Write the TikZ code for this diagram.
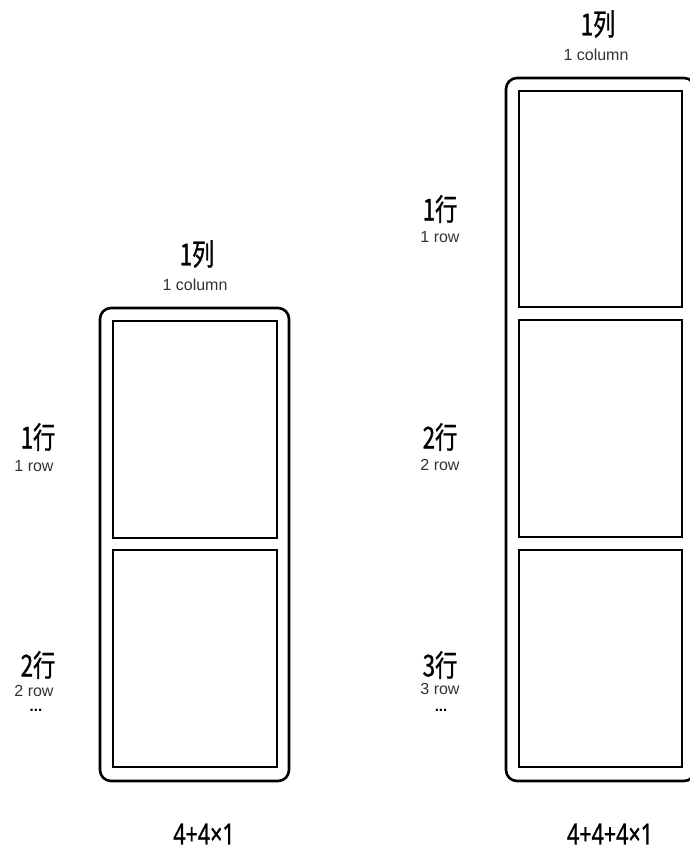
\documentclass[tikz,border=0pt]{standalone}
\usepackage{fontspec}
\setmainfont{Liberation Sans}
\newfontfamily\cjk[FakeStretch=0.74,FakeBold=1]{Noto Sans CJK SC}
\newfontfamily\num[FakeStretch=0.74,FakeBold=0.8]{Noto Sans}
\usepackage{tikz}
\usetikzlibrary{calc}

\tikzset{
  frame/.style={line width=2.6pt, rounded corners=11pt},
  cell/.style={line width=2.2pt},
  big/.style={font=\cjk\fontsize{30}{30}\selectfont, inner sep=0pt},
  small/.style={font=\fontsize{16}{16}\selectfont, text=black!80, inner sep=0pt},
  dots/.style={font=\bfseries\fontsize{15}{15}\selectfont, inner sep=0pt},
  total/.style={font=\num\fontsize{29}{29}\selectfont, inner sep=0pt}
}

\begin{document}
\begin{tikzpicture}[x=1pt,y=-1pt]

  \clip (0,0) rectangle (690,852);
  \fill[white] (0,0) rectangle (690,852);

  % Left frame
  \draw[frame] (100,308) rectangle (289,781);
  \foreach \top/\bot in {321/538, 550/767} {
    \draw[cell] (113,\top) rectangle (277,\bot);
  }

  % Right frame
  \draw[frame] (506,78) rectangle (695,781);
  \foreach \top/\bot in {91/307, 320/537, 550/767} {
    \draw[cell] (519,\top) rectangle (682,\bot);
  }

  % Column labels
  \node[big] (lcol) at (197,254) {1列};
  \node[small] (lcolsub) at (195,285) {1 column};
  \node[big] (rcol) at (598,24) {1列};
  \node[small] (rcolsub) at (596,55) {1 column};

  % Row labels, left
  \node[big] (lrowa) at (38,437) {1行};
  \node[small] (lrowasub) at (34,466) {1 row};
  \node[big] (lrowb) at (38,665) {2行};
  \node[small] (lrowbsub) at (34,691) {2 row};
  \node[dots] (ldots) at (36,710) {...};

  % Row labels, right
  \node[big] (rrowa) at (440,209) {1行};
  \node[small] (rrowasub) at (440,237) {1 row};
  \node[big] (rrowb) at (440,437) {2行};
  \node[small] (rrowbsub) at (440,465) {2 row};
  \node[big] (rrowc) at (440,665) {3行};
  \node[small] (rrowcsub) at (440,689) {3 row};
  \node[dots] (rdots) at (441,710) {...};

  % Totals
  \node[total] (ltotal) at (204,834) {4+4×1};
  \node[total] (rtotal) at (610,834) {4+4+4×1};

\end{tikzpicture}
\end{document}
